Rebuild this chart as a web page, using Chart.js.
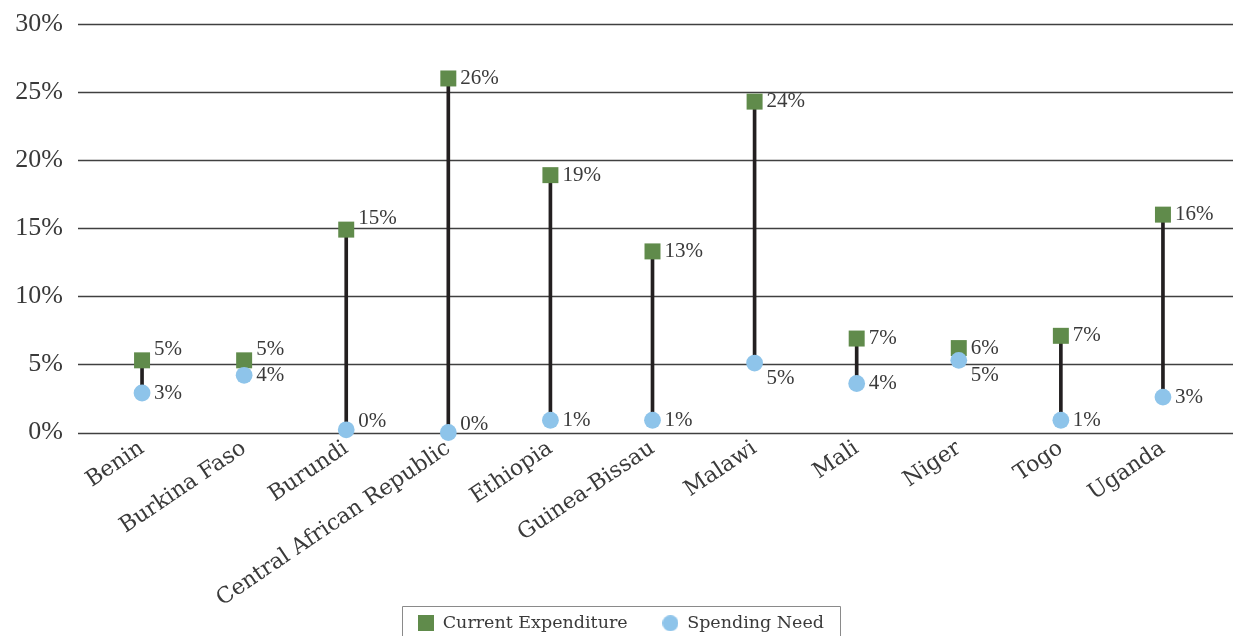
<!DOCTYPE html>
<html>
<head>
<meta charset="utf-8">
<script src="https://cdn.jsdelivr.net/npm/chart.js@4.4.1/dist/chart.umd.min.js"></script>
<style>
  html, body { margin: 0; padding: 0; background: #ffffff; }
  #wrap { width: 1233px; height: 636px; position: relative; }
</style>
</head>
<body>
<div id="wrap"><canvas id="c" width="1233" height="636"></canvas></div>
<script>
const categories = ['Benin', 'Burkina Faso', 'Burundi', 'Central African Republic', 'Ethiopia', 'Guinea-Bissau', 'Malawi', 'Mali', 'Niger', 'Togo', 'Uganda'];
const currentExpenditure = [5.3, 5.3, 14.9, 26.0, 18.9, 13.3, 24.3, 6.9, 6.2, 7.1, 16.0];
const spendingNeed = [2.9, 4.2, 0.2, 0.0, 0.9, 0.9, 5.1, 3.6, 5.3, 0.9, 2.6];
const yTicks = [0, 5, 10, 15, 20, 25, 30];
const seriesNames = ['Current Expenditure', 'Spending Need'];

const GREEN = '#608b4b';
const BLUE = '#8ec4ea';
const TEXT = '#3a3a3a';

function legendIcon(kind, color) {
  const c = document.createElement('canvas');
  c.width = 16; c.height = 16;
  const g = c.getContext('2d');
  if (kind === 'blank') return c;
  g.fillStyle = color;
  if (kind === 'rect') { g.fillRect(0, 0, 16, 16); }
  else { g.beginPath(); g.arc(8, 8, 8, 0, Math.PI * 2); g.fill(); }
  return c;
}

function zeroPad(scale) {
  scale.paddingTop = 0; scale.paddingBottom = 0;
  scale.paddingLeft = 0; scale.paddingRight = 0;
}

const gridPlugin = {
  id: 'gridLines',
  beforeDatasetsDraw(chart) {
    const y = chart.scales.y, ctx = chart.ctx, area = chart.chartArea;
    ctx.save();
    ctx.strokeStyle = '#404040';
    ctx.lineWidth = 1.3;
    y.ticks.forEach(t => {
      const py = Math.round(y.getPixelForValue(t.value)) + 0.5;
      ctx.beginPath();
      ctx.moveTo(area.left - 13, py);
      ctx.lineTo(chart.width, py);
      ctx.stroke();
    });
    ctx.restore();
  }
};

const labelPlugin = {
  id: 'valueLabels',
  afterDatasetsDraw(chart) {
    const ctx = chart.ctx, yScale = chart.scales.y;
    ctx.save();
    ctx.font = '21px "Liberation Serif"';
    ctx.fillStyle = TEXT;
    ctx.textAlign = 'left';
    ctx.textBaseline = 'middle';
    [1, 2].forEach(di => {
      const meta = chart.getDatasetMeta(di);
      const vals = chart.data.datasets[di].data;
      meta.data.forEach((pt, i) => {
        const v = vals[i];
        const g = Math.round(v / 5) * 5;
        const d = pt.y - yScale.getPixelForValue(g);
        let dy = 0;
        if (Math.abs(d) < 8) {
          if (di === 1) dy = -11;
          else if (g === 0) dy = -8;
          else dy = 15;
        }
        ctx.fillText(Math.round(v) + '%', pt.x + 12, pt.y + dy);
      });
    });
    ctx.restore();
  }
};

const legendBorderPlugin = {
  id: 'legendBorder',
  afterDraw(chart) {
    const lg = chart.legend;
    if (!lg || !lg.legendHitBoxes || !lg.legendHitBoxes.length) return;
    const boxes = lg.legendHitBoxes;
    const first = boxes[0], last = boxes[boxes.length - 1];
    const cy = first.top + first.height / 2;
    const ctx = chart.ctx;
    ctx.save();
    ctx.strokeStyle = '#8a8a8a';
    ctx.lineWidth = 1;
    const l = Math.round(first.left - 16) + 0.5;
    const r = Math.round(last.left + last.width + 16) + 0.5;
    const t = Math.round(cy - 17) + 0.5;
    ctx.beginPath();
    ctx.moveTo(l, chart.height + 2);
    ctx.lineTo(l, t);
    ctx.lineTo(r, t);
    ctx.lineTo(r, chart.height + 2);
    ctx.stroke();
    ctx.restore();
  }
};

const connectors = spendingNeed.map((s, i) => [s, currentExpenditure[i]]);

new Chart(document.getElementById('c'), {
  type: 'bar',
  data: {
    labels: categories,
    datasets: [
      {
        type: 'bar',
        label: 'connector',
        data: connectors,
        backgroundColor: '#231f20',
        barThickness: 3,
        order: 10
      },
      {
        type: 'line',
        label: seriesNames[0],
        data: currentExpenditure,
        showLine: false,
        pointStyle: 'rect',
        pointRadius: 11.3,
        pointHoverRadius: 11.3,
        pointBackgroundColor: GREEN,
        pointBorderWidth: 0,
        backgroundColor: GREEN,
        borderColor: GREEN,
        order: 2,
        clip: false
      },
      {
        type: 'line',
        label: seriesNames[1],
        data: spendingNeed,
        showLine: false,
        pointStyle: 'circle',
        pointRadius: 8.4,
        pointHoverRadius: 8.4,
        pointBackgroundColor: BLUE,
        pointBorderWidth: 0,
        backgroundColor: BLUE,
        borderColor: BLUE,
        order: 1,
        clip: false
      }
    ]
  },
  options: {
    responsive: false,
    animation: false,
    events: [],
    layout: { autoPadding: false, padding: { left: 9, right: 0, top: 24, bottom: -6 } },
    scales: {
      x: {
        type: 'category',
        offset: true,
        grid: { display: false, drawTicks: false },
        border: { display: false },
        ticks: {
          color: TEXT,
          font: { family: '"DejaVu Serif"', size: 22 },
          maxRotation: 34,
          minRotation: 34,
          padding: 3,
          autoSkip: false
        },
        afterFit(scale) { scale.height = 177; zeroPad(scale); }
      },
      y: {
        min: 0,
        max: 30,
        afterBuildTicks(scale) { scale.ticks = yTicks.map(v => ({ value: v })); },
        grid: { display: false, drawTicks: false },
        border: { display: false },
        ticks: {
          color: TEXT,
          font: { family: '"Liberation Serif"', size: 26 },
          padding: 28,
          callback: v => v + '%'
        },
        afterFit(scale) { scale.width = 82; zeroPad(scale); }
      },
      y2: {
        position: 'right',
        display: true,
        grid: { display: false, drawTicks: false },
        border: { display: false },
        ticks: { display: false },
        afterFit(scale) { scale.width = 19; zeroPad(scale); }
      }
    },
    plugins: {
      tooltip: { enabled: false },
      legend: {
        position: 'bottom',
        labels: {
          color: TEXT,
          font: { family: '"DejaVu Serif"', size: 17.5 },
          usePointStyle: true,
          boxWidth: 16,
          boxHeight: 16,
          padding: 5,
          generateLabels(chart) {
            const d1 = chart.data.datasets[1], d2 = chart.data.datasets[2];
            return [
              { text: d1.label, datasetIndex: 1, pointStyle: legendIcon('rect', d1.pointBackgroundColor), fillStyle: d1.pointBackgroundColor, strokeStyle: d1.pointBackgroundColor, lineWidth: 0, fontColor: TEXT, hidden: false },
              { text: '', pointStyle: legendIcon('blank'), fillStyle: 'rgba(0,0,0,0)', strokeStyle: 'rgba(0,0,0,0)', lineWidth: 0, fontColor: TEXT, hidden: false },
              { text: d2.label, datasetIndex: 2, pointStyle: legendIcon('circle', d2.pointBackgroundColor), fillStyle: d2.pointBackgroundColor, strokeStyle: d2.pointBackgroundColor, lineWidth: 0, fontColor: TEXT, hidden: false }
            ];
          }
        }
      }
    }
  },
  plugins: [gridPlugin, labelPlugin, legendBorderPlugin]
});
</script>
</body>
</html>
